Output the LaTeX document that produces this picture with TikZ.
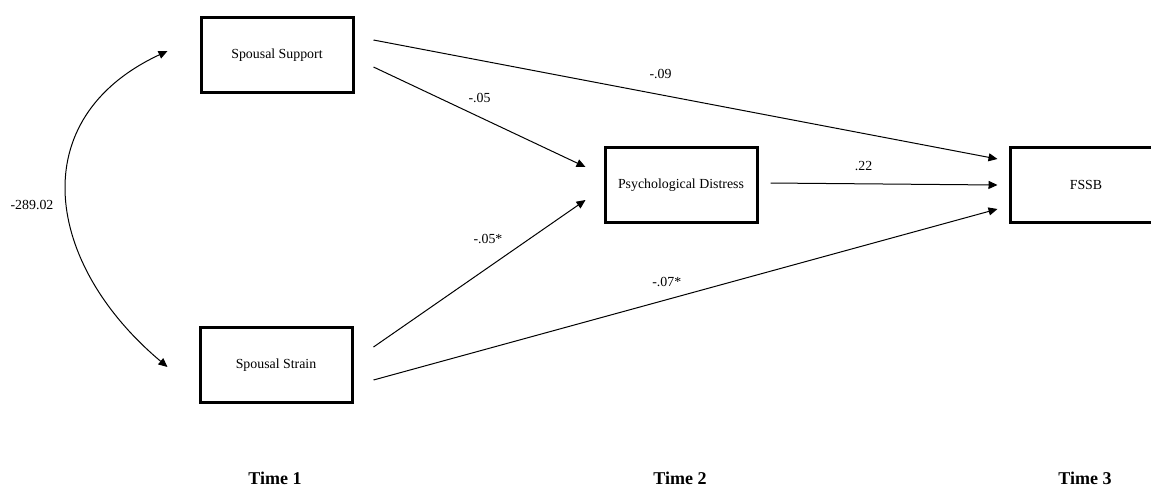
\documentclass[tikz,border=0pt]{standalone}
\usepackage{fontspec}
\setmainfont{Liberation Serif}
\usetikzlibrary{arrows.meta}

\begin{document}
\begin{tikzpicture}[x=0.75pt, y=-0.75pt,
  >={Triangle[length=6.75pt, width=6pt]},
  var/.style={rectangle, draw, line width=2.25pt, minimum width=114pt,
              minimum height=56pt, font=\fontsize{10.4}{12}\selectfont},
  arr/.style={->, line width=0.75pt},
  coef/.style={font=\fontsize{10.4}{12}\selectfont},
  wave/.style={font=\bfseries\fontsize{13.5}{16}\selectfont}
]
\useasboundingbox (0,0) rectangle (1151,487);

\node[var] (sup)  at (277,55)   {Spousal Support};
\node[var] (str)  at (276,365)  {Spousal Strain};
\node[var] (psy)  at (681,185)  {Psychological Distress};
\node[var] (fssb) at (1086,185) {FSSB};

\node[coef] (cov) at (32,205) {-289.02};

\node[wave] (t1) at (275,478)  {Time 1};
\node[wave] (t2) at (680,478)  {Time 2};
\node[wave] (t3) at (1085,478) {Time 3};

\draw[arr] ([shift={(19,-15)}]sup.east) -- node[coef, pos=0.46, above=8pt]{-.09} ([shift={(-11,-26)}]fssb.west);
\draw[arr] ([shift={(19,12)}]sup.east)  -- node[coef, pos=0.5, above=7pt]{-.05} ([shift={(-18,-18)}]psy.west);
\draw[arr] ([shift={(20,-18)}]str.east) -- node[coef, pos=0.54, above=14pt]{-.05*} ([shift={(-18,15)}]psy.west);
\draw[arr] ([shift={(20,15)}]str.east)  -- node[coef, pos=0.47, above=6pt]{-.07*} ([shift={(-11,24)}]fssb.west);
\draw[arr] ([shift={(12,-2)}]psy.east)  -- node[coef, pos=0.41, above=6pt]{.22} ([shift={(-11,0)}]fssb.west);

\draw[arr, <->] ([shift={(-32,-4)}]sup.west) to[out=205, in=140, looseness=1.3] ([shift={(-31,2)}]str.west);
\end{tikzpicture}
\end{document}
